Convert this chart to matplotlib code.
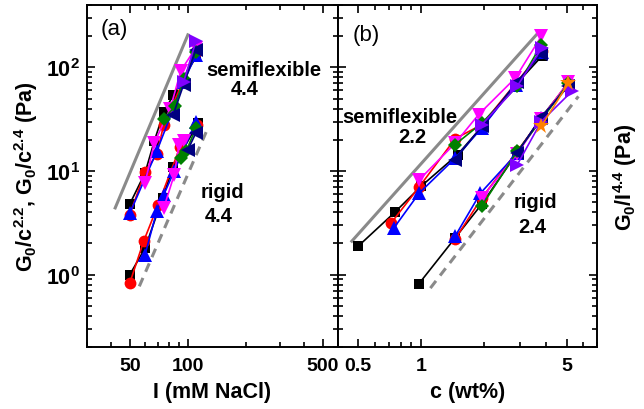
import matplotlib
matplotlib.use("Agg")
import matplotlib.pyplot as plt
import numpy as np
from matplotlib.ticker import FixedLocator, FuncFormatter, LogLocator, NullFormatter

plt.rcParams['font.family'] = ['Liberation Sans', 'DejaVu Sans']
plt.rcParams['mathtext.fontset'] = 'custom'
plt.rcParams['mathtext.rm'] = 'Liberation Sans:bold'
plt.rcParams['mathtext.it'] = 'Liberation Sans:bold'
plt.rcParams['mathtext.bf'] = 'Liberation Sans:bold'

# ---------------- data: panel (a), x = I (mM NaCl) ----------------
a_semi_black_I = [50, 60, 67, 75, 84, 110]
a_semi_black_G = [4.8, 9.6, 19.5, 37, 54, 125]
a_semi_red_I = [50, 60, 69, 75, 110]
a_semi_red_G = [3.8, 9.8, 14.5, 28, 140]
a_semi_blue_I = [50, 69, 95, 110]
a_semi_blue_G = [3.9, 15.5, 72, 132]
a_semi_magenta_I = [60, 67, 81, 92, 110]
a_semi_magenta_G = [7.7, 18.7, 40, 93, 155]
a_semi_green_I = [75, 86, 95, 110]
a_semi_green_G = [32, 42, 78, 140]
a_semi_navy_I = [84, 95, 110]
a_semi_navy_G = [35, 68, 148]
a_semi_purple_I = [95, 110]
a_semi_purple_G = [72, 178]

a_rig_black_I = [50, 60, 74, 84, 113]
a_rig_black_G = [1.0, 1.8, 5.5, 11, 29]
a_rig_red_I = [50, 59, 70, 91, 112]
a_rig_red_G = [0.83, 2.1, 4.7, 17, 28]
a_rig_blue_I = [60, 69, 75, 85, 110]
a_rig_blue_G = [1.56, 4.1, 5.9, 10, 30]
a_rig_magenta_I = [75, 85, 90, 96]
a_rig_magenta_G = [4.4, 9.2, 18, 19.5]
a_rig_green_I = [92, 98, 110]
a_rig_green_G = [13.3, 15.5, 26]
a_rig_navy_I = [100, 110]
a_rig_navy_G = [16, 23.3]

a_guide_semi_I = [42, 100]
a_guide_semi_G = [4.4, 206]
a_guide_rig_I = [56, 127]
a_guide_rig_G = [0.77, 26]

# ---------------- data: panel (b), x = c (wt%) ----------------
b_semi_black_c = [0.5, 0.75, 1.0, 1.5, 2.0, 2.85, 3.8]
b_semi_black_G = [1.88, 4.0, 7.1, 14.4, 28, 68, 128]
b_semi_red_c = [0.72, 0.98, 1.46, 1.96, 2.85, 3.8]
b_semi_red_G = [3.15, 7.0, 20.5, 28, 70, 143]
b_semi_blue_c = [0.74, 0.98, 1.46, 1.96, 2.85, 3.8]
b_semi_blue_G = [2.8, 6.1, 13.3, 26, 68, 140]
b_semi_magenta_c = [0.98, 1.46, 1.89, 2.84, 3.78]
b_semi_magenta_G = [8.2, 18.5, 35, 79, 199]
b_semi_green_c = [1.46, 1.96, 2.9, 3.78]
b_semi_green_G = [18, 29, 66, 165]
b_semi_navy_c = [1.46, 1.96, 2.9, 3.78]
b_semi_navy_G = [12.9, 27, 73, 135]
b_semi_purple_c = [1.96, 2.9, 3.8]
b_semi_purple_G = [28, 66, 153]

b_rig_black_c = [0.98, 1.46, 1.96, 2.9, 3.78, 5.1]
b_rig_black_G = [0.82, 2.26, 4.8, 15, 33, 70]
b_rig_red_c = [1.46, 1.96, 2.9, 3.78, 5.1]
b_rig_red_G = [2.2, 5.5, 15.5, 32, 72]
b_rig_blue_c = [1.46, 1.93, 2.9, 3.78, 5.1]
b_rig_blue_G = [2.35, 6.1, 14.9, 32.4, 68]
b_rig_magenta_c = [1.96, 2.9, 3.78, 5.1]
b_rig_magenta_G = [5.5, 14.7, 32, 72]
b_rig_green_c = [1.96, 2.9, 3.78, 5.1]
b_rig_green_G = [4.6, 15.5, 31, 70]
b_rig_navy_c = [2.9, 3.78, 5.1]
b_rig_navy_G = [15, 33, 66]
b_rig_purple_c = [2.9, 3.78, 5.3]
b_rig_purple_G = [11.5, 30, 58.7]
b_rig_orange_c = [3.78, 5.1]
b_rig_orange_G = [27, 70]

b_guide_semi_c = [0.466, 3.58]
b_guide_semi_G = [2.1, 206]
b_guide_rig_c = [1.11, 5.7]
b_guide_rig_G = [0.74, 52.5]

a_xticks = [50, 100, 500]
b_xticks = [0.5, 1, 5]
yticks = [1, 10, 100]

# ---------------- styles ----------------
sty = {
    'black': dict(color='black', marker='s'),
    'red': dict(color='#ff0000', marker='o'),
    'blue': dict(color='#0000ff', marker='^'),
    'magenta': dict(color='#ff00ff', marker='v'),
    'green': dict(color='#008000', marker='D'),
    'navy': dict(color='#000080', marker='<'),
    'purple': dict(color='#8000ff', marker='>'),
    'orange': dict(color='#ff8000', marker='*'),
}
msize = {'s': 7.5, 'o': 8.5, '^': 9.5, 'v': 9.5, 'D': 7.5, '<': 9.5, '>': 9.5, '*': 12}

fig = plt.figure(figsize=(6.44, 4.10), dpi=100)
axA = fig.add_axes([87/644, 1-348/410, (338-87)/644, 342/410])
axB = fig.add_axes([338/644, 1-348/410, (597-338)/644, 342/410], sharey=axA)


def plot_series(ax, x, y, key):
    s = sty[key]
    ax.plot(x, y, color=s['color'], marker=s['marker'], ms=msize[s['marker']],
            mec=s['color'], mfc=s['color'], lw=1.2, mew=0)


for key, x, y in [
    ('black', a_semi_black_I, a_semi_black_G), ('red', a_semi_red_I, a_semi_red_G),
    ('blue', a_semi_blue_I, a_semi_blue_G), ('magenta', a_semi_magenta_I, a_semi_magenta_G),
    ('green', a_semi_green_I, a_semi_green_G), ('navy', a_semi_navy_I, a_semi_navy_G),
    ('purple', a_semi_purple_I, a_semi_purple_G),
    ('black', a_rig_black_I, a_rig_black_G), ('red', a_rig_red_I, a_rig_red_G),
    ('blue', a_rig_blue_I, a_rig_blue_G), ('magenta', a_rig_magenta_I, a_rig_magenta_G),
    ('green', a_rig_green_I, a_rig_green_G), ('navy', a_rig_navy_I, a_rig_navy_G),
]:
    plot_series(axA, x, y, key)

for key, x, y in [
    ('black', b_semi_black_c, b_semi_black_G), ('red', b_semi_red_c, b_semi_red_G),
    ('blue', b_semi_blue_c, b_semi_blue_G), ('magenta', b_semi_magenta_c, b_semi_magenta_G),
    ('green', b_semi_green_c, b_semi_green_G), ('navy', b_semi_navy_c, b_semi_navy_G),
    ('purple', b_semi_purple_c, b_semi_purple_G),
    ('black', b_rig_black_c, b_rig_black_G), ('red', b_rig_red_c, b_rig_red_G),
    ('blue', b_rig_blue_c, b_rig_blue_G), ('magenta', b_rig_magenta_c, b_rig_magenta_G),
    ('green', b_rig_green_c, b_rig_green_G), ('navy', b_rig_navy_c, b_rig_navy_G),
    ('purple', b_rig_purple_c, b_rig_purple_G), ('orange', b_rig_orange_c, b_rig_orange_G),
]:
    plot_series(axB, x, y, key)

gray = '#8a8a8a'
axA.plot(a_guide_semi_I, a_guide_semi_G, color=gray, lw=2.2, zorder=1)
axA.plot(a_guide_rig_I, a_guide_rig_G, color=gray, lw=2.2, ls=(0, (3, 2.2)), zorder=1)
axB.plot(b_guide_semi_c, b_guide_semi_G, color=gray, lw=2.2, zorder=1)
axB.plot(b_guide_rig_c, b_guide_rig_G, color=gray, lw=2.2, ls=(0, (3, 2.2)), zorder=1)

for ax in (axA, axB):
    ax.set_xscale('log')
    ax.set_yscale('log')
    for sp in ax.spines.values():
        sp.set_linewidth(1.4)
    ax.tick_params(which='both', direction='in', top=True, right=True, width=1.2)
    ax.tick_params(which='major', length=6)
    ax.tick_params(which='minor', length=3.5)
    ax.yaxis.set_minor_locator(LogLocator(base=10, subs=np.arange(2, 10)))
    ax.yaxis.set_minor_formatter(NullFormatter())
    ax.xaxis.set_minor_locator(LogLocator(base=10, subs=np.arange(1, 10)))
    ax.xaxis.set_minor_formatter(NullFormatter())

axA.set_ylim(0.2, 400)
axA.set_xlim(30, 600)
axB.set_xlim(0.4, 7)

axA.yaxis.set_major_locator(FixedLocator(yticks))
axA.yaxis.set_major_formatter(FuncFormatter(lambda v, p: r"$10^{%d}$" % round(np.log10(v))))
axA.xaxis.set_major_locator(FixedLocator(a_xticks))
axA.xaxis.set_major_formatter(FuncFormatter(lambda v, p: "%g" % v))
axB.xaxis.set_major_locator(FixedLocator(b_xticks))
axB.xaxis.set_major_formatter(FuncFormatter(lambda v, p: "%g" % v))

for lab in axA.get_xticklabels() + axA.get_yticklabels() + axB.get_xticklabels():
    lab.set_fontweight('bold')
axA.tick_params(axis='x', labelsize=14, pad=7)
axB.tick_params(axis='x', labelsize=14, pad=7)
axA.tick_params(axis='y', labelsize=15.5, pad=5)
axB.tick_params(axis='y', labelleft=False)

axA.set_xlabel('I (mM NaCl)', fontsize=15.5, fontweight='bold', labelpad=5)
axB.set_xlabel('c (wt%)', fontsize=15.5, fontweight='bold', labelpad=5)
axA.set_ylabel('G$_0$/c$^{2.2}$, G$_0$/c$^{2.4}$ (Pa)', fontsize=15.5, fontweight='bold', labelpad=4)
axB.yaxis.set_label_position('right')
axB.set_ylabel('G$_0$/I$^{4.4}$ (Pa)', fontsize=15.5, fontweight='bold', labelpad=10)

axA.text(0.055, 0.93, '(a)', transform=axA.transAxes, fontsize=16, ha='left', va='center')
axB.text(0.055, 0.915, '(b)', transform=axB.transAxes, fontsize=16, ha='left', va='center')

tk = dict(fontsize=14.5, fontweight='bold', ha='center', va='center')
axA.text(0.705, 0.81, 'semiflexible', transform=axA.transAxes, **tk)
axA.text(0.63, 0.755, '4.4', transform=axA.transAxes, **tk)
axA.text(0.54, 0.455, 'rigid', transform=axA.transAxes, **tk)
axA.text(0.525, 0.385, '4.4', transform=axA.transAxes, **tk)
axB.text(0.24, 0.675, 'semiflexible', transform=axB.transAxes, **tk)
axB.text(0.285, 0.615, '2.2', transform=axB.transAxes, **tk)
axB.text(0.764, 0.424, 'rigid', transform=axB.transAxes, **tk)
axB.text(0.75, 0.352, '2.4', transform=axB.transAxes, **tk)

fig.savefig('out.png', dpi=100)
